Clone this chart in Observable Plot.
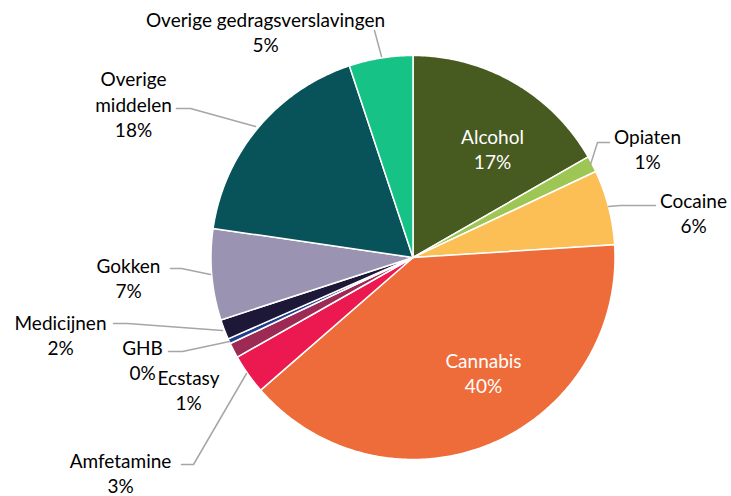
<!DOCTYPE html>
<html>
<head>
<meta charset="utf-8">
<script src="https://cdn.jsdelivr.net/npm/d3@7"></script>
<script src="https://cdn.jsdelivr.net/npm/@observablehq/plot@0.6"></script>
<style>
  html, body { margin: 0; padding: 0; background: #ffffff; }
  #chart svg { display: block; }
</style>
</head>
<body>
<div id="chart"></div>
<script>
// ---- data ----
const categories = ["Alcohol", "Opiaten", "Cocaine", "Cannabis", "Amfetamine", "Ecstasy", "GHB", "Medicijnen", "Gokken", "Overige middelen", "Overige gedragsverslavingen"];
const shares = [16.7, 1.3, 6.0, 39.6, 3.2, 1.2, 0.4, 1.6, 7.3, 17.6, 5.1];
const colors = ["#475A1F", "#9DC655", "#FBBF55", "#EE6C3A", "#EC1850", "#9C2A55", "#1F3E8C", "#1E1838", "#9B93B2", "#08535A", "#16C285"];
const labelNames = ["Alcohol", "Opiaten", "Cocaine", "Cannabis", "Amfetamine", "Ecstasy", "GHB", "Medicijnen", "Gokken", "Overige\nmiddelen", "Overige gedragsverslavingen"];

// ---- layout (offsets from pie centre, px) ----
const R = 202;
const cx = 412.5, cy = 257, W = 731, H = 496;
const labelPos = [[79.5, -109], [234.5, -109], [280.5, -45], [70.5, 115], [-292.5, 215], [-224.5, 132], [-270.5, 102], [-352.5, 77], [-284.5, 20], [-279.5, -154], [-147.5, -226]];
const labelInside = [true, false, false, true, false, false, false, false, false, false, false];
const leaders = [
  null,
  [[177.5, -93], [184.5, -115], [196.5, -115]],
  [[195.5, -51], [207.5, -52], [242.5, -52]],
  null,
  [[-166.5, 116], [-219.5, 207], [-231.5, 207]],
  null,
  [[-183.5, 84], [-230.5, 94], [-244.5, 94]],
  [[-190.5, 73], [-285.5, 66], [-299.5, 66]],
  [[-202.5, 17], [-231.5, 11], [-242.5, 11]],
  [[-157.5, -131], [-222.5, -149], [-236.5, -149]],
  [[-31.5, -201], [-38.5, -227]]
];

// ---- build slices ----
const total = d3.sum(shares);
const slicePts = [];
let acc = 0;
categories.forEach((c, i) => {
  const a0 = acc / total * 2 * Math.PI;
  acc += shares[i];
  const a1 = acc / total * 2 * Math.PI;
  slicePts.push({cat: c, x: 0, y: 0});
  const n = Math.max(2, Math.ceil((a1 - a0) / (Math.PI / 360)));
  for (let k = 0; k <= n; k++) {
    const a = a0 + (a1 - a0) * k / n;
    slicePts.push({cat: c, x: R * Math.sin(a), y: -R * Math.cos(a)});
  }
  slicePts.push({cat: c, x: 0, y: 0});
});

const labels = categories.map((c, i) => ({
  cat: c,
  x: labelPos[i][0],
  y: labelPos[i][1],
  text: labelNames[i] + "\n" + Math.round(shares[i]) + "%",
  inside: labelInside[i]
}));

const leaderPts = [];
leaders.forEach((l, i) => { if (l) l.forEach(p => leaderPts.push({cat: categories[i], x: p[0], y: p[1]})); });

const plot = Plot.plot({
  width: W,
  height: H,
  margin: 0,
  x: {domain: [-cx, W - cx], range: [0, W], axis: null},
  y: {domain: [-cy, H - cy], range: [0, H], axis: null},
  color: {domain: categories, range: colors},
  style: {fontFamily: "Lato, 'Open Sans', sans-serif", background: "#ffffff"},
  marks: [
    Plot.line(slicePts, {x: "x", y: "y", z: "cat", fill: "cat", stroke: "#ffffff", strokeWidth: 1.5, strokeLinejoin: "round"}),
    Plot.line(leaderPts, {x: "x", y: "y", z: "cat", stroke: "#A6A6A6", strokeWidth: 1.5}),
    Plot.text(labels.filter(d => !d.inside), {x: "x", y: "y", text: "text", fill: "#000000", fontSize: 19, lineHeight: 1.32, textAnchor: "middle"}),
    Plot.text(labels.filter(d => d.inside), {x: "x", y: "y", text: "text", fill: "#ffffff", fontSize: 19, lineHeight: 1.32, textAnchor: "middle"})
  ]
});
document.getElementById("chart").appendChild(plot);
</script>
</body>
</html>
